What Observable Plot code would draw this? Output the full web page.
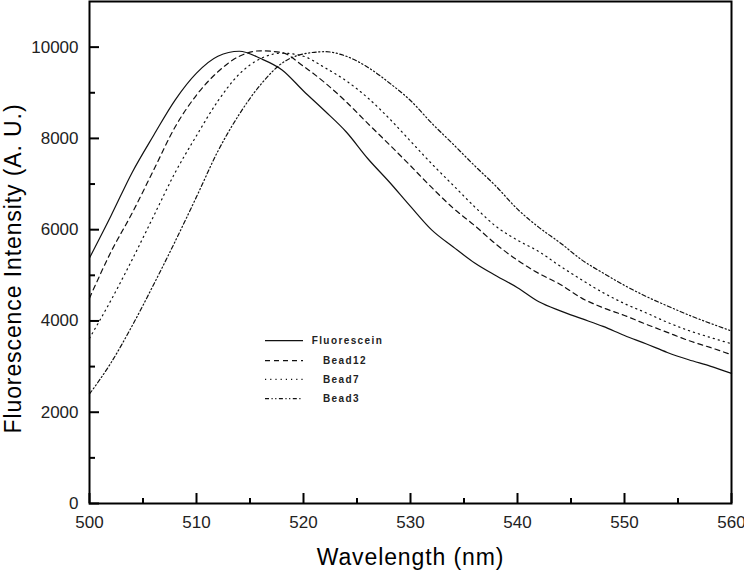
<!DOCTYPE html>
<html>
<head>
<meta charset="utf-8">
<script src="https://cdn.jsdelivr.net/npm/d3@7"></script>
<script src="https://cdn.jsdelivr.net/npm/@observablehq/plot@0.6"></script>
<style>
  html, body { margin: 0; padding: 0; background: #fff; }
  #wrap { position: relative; width: 744px; height: 573px; }
  #legend { position: absolute; left: 0; top: 0; pointer-events: none; }
</style>
</head>
<body>
<div id="wrap"></div>
<script>
// ---- data ----
const wavelength = [500,502,504,506,508,510,512,514,516,518,520,522,524,526,528,530,532,534,536,538,540,542,544,546,548,550,552,554,556,558,560];
const fluorescein = [5380,6300,7260,8070,8840,9430,9800,9910,9750,9500,9040,8600,8140,7560,7050,6510,5990,5620,5270,4990,4730,4420,4220,4050,3880,3680,3500,3310,3150,3010,2850];
const bead12 = [4500,5510,6370,7310,8250,8950,9460,9800,9920,9880,9580,9220,8800,8330,7870,7400,6920,6470,6090,5680,5330,5040,4800,4500,4290,4120,3930,3750,3570,3420,3260];
const bead7 = [3620,4450,5350,6300,7250,8060,8820,9410,9750,9870,9800,9550,9260,8890,8440,7940,7440,6970,6500,6070,5770,5520,5200,4900,4620,4380,4180,3970,3790,3640,3500];
const bead3 = [2400,3080,3900,4800,5740,6720,7720,8530,9180,9650,9850,9900,9800,9560,9220,8830,8330,7870,7400,6950,6450,6050,5710,5340,5050,4780,4540,4330,4130,3950,3780];
const seriesNames = ["Fluorescein", "Bead12", "Bead7", "Bead3"];
const xMajorTicks = [500,510,520,530,540,550,560];
const xMinorTicks = [505,515,525,535,545,555];
const yMajorTicks = [0,2000,4000,6000,8000,10000];
const yMinorTicks = [1000,3000,5000,7000,9000];
const xTitle = "Wavelength (nm)";
const yTitle = "Fluorescence Intensity (A. U.)";

const seriesValues = [fluorescein, bead12, bead7, bead3];
const dashes = ["none", "5,4", "1.2,4", "4,2.5,1.2,2.5,1.2,2.5"];
const rows = seriesNames.map((name, k) => wavelength.map((w, i) => ({series: name, w, v: seriesValues[k][i]})));

const W = 744, H = 573, mL = 89, mR = 13, mT = 1, mB = 70;
const fw = W - mL - mR, fh = H - mT - mB;

const plot = Plot.plot({
  width: W, height: H,
  marginLeft: mL, marginRight: mR, marginTop: mT, marginBottom: mB,
  x: {domain: [500, 560]},
  y: {domain: [0, 11000]},
  style: {fontFamily: "'Liberation Sans', Arial, sans-serif", background: "#fff", color: "#000"},
  marks: [
    ...rows.map((r, k) => Plot.line(r, {x: "w", y: "v", stroke: "#111", strokeWidth: 1.2, strokeDasharray: dashes[k] === "none" ? undefined : dashes[k], curve: "monotone-x"})),
    Plot.frame({stroke: "#000", strokeWidth: 2}),
    Plot.tickX(xMajorTicks, {x: d => d, insetTop: fh - 10, stroke: "#000", strokeWidth: 2}),
    Plot.tickX(xMinorTicks, {x: d => d, insetTop: fh - 5, stroke: "#000", strokeWidth: 2}),
    Plot.tickY(yMajorTicks, {y: d => d, insetRight: fw - 10, stroke: "#000", strokeWidth: 2}),
    Plot.tickY(yMinorTicks, {y: d => d, insetRight: fw - 6, stroke: "#000", strokeWidth: 2}),
    Plot.axisX({ticks: xMajorTicks, tickSize: 0, tickPadding: 12, tickFormat: d => String(d), label: null, fontSize: 17, fill: "#222"}),
    Plot.axisY({ticks: yMajorTicks, tickSize: 0, tickPadding: 11, tickFormat: d => String(d), label: null, fontSize: 17, fill: "#222"}),
    Plot.text([xTitle], {text: d => d, frameAnchor: "bottom", textAnchor: "middle", dy: 61, fontSize: 23, fill: "#000"}),
    Plot.text([yTitle], {text: d => d, frameAnchor: "left", textAnchor: "middle", dx: -75.5, dy: 16, rotate: -90, fontSize: 23, fill: "#000"})
  ]
});

d3.select(plot).selectAll("text").filter(function() {
  return this.textContent === xTitle || this.textContent === yTitle;
}).attr("letter-spacing", "0.9px");

const wrap = document.getElementById("wrap");
wrap.appendChild(plot);

// legend overlay
const legendY = [340.7, 360.7, 379.3, 398.7];
const legendTextX = [311.7, 323, 323, 323];
const lg = d3.select(wrap).append("svg").attr("id", "legend").attr("width", W).attr("height", H);
seriesNames.forEach((name, k) => {
  lg.append("line")
    .attr("x1", 265).attr("x2", 303).attr("y1", legendY[k]).attr("y2", legendY[k])
    .attr("stroke", "#111").attr("stroke-width", 1.3)
    .attr("stroke-dasharray", dashes[k] === "none" ? null : dashes[k]);
  lg.append("text")
    .attr("x", legendTextX[k]).attr("y", legendY[k]).attr("dy", "0.35em")
    .attr("font-family", "'Liberation Sans', Arial, sans-serif")
    .attr("font-size", 10).attr("font-weight", "bold").attr("letter-spacing", "1.4px")
    .attr("fill", "#222").text(name);
});
</script>
</body>
</html>
